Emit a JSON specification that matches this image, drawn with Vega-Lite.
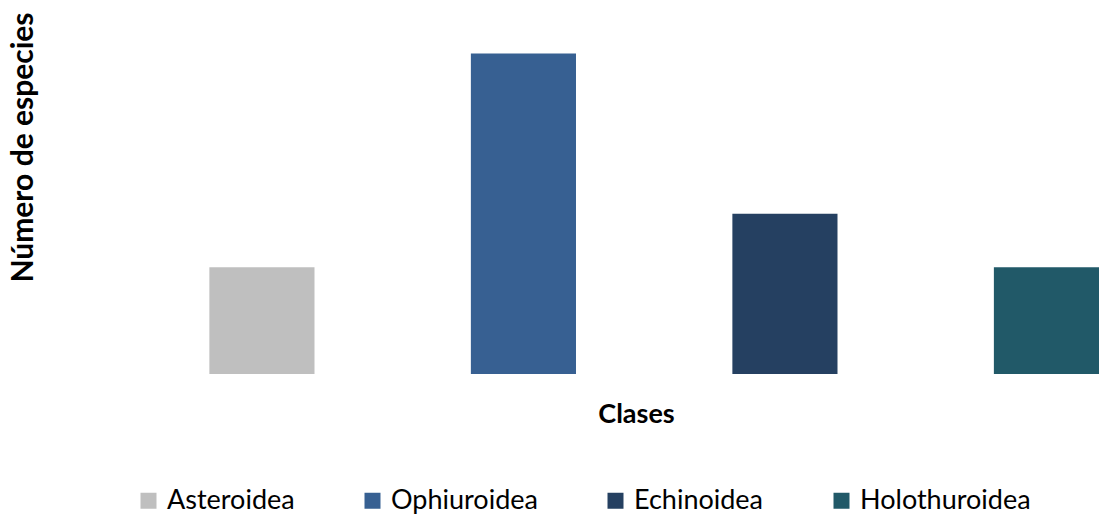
{
  "$schema": "https://vega.github.io/schema/vega-lite/v6.json",
  "autosize": "none",
  "width": 1039,
  "height": 374,
  "padding": {"left": 60, "top": 0, "right": 0, "bottom": 145},
  "background": "white",
  "config": {"view": {"stroke": null}, "font": "Lato"},
  "data": {
    "values": [
      {"clase": "Asteroidea", "especies": 2},
      {"clase": "Ophiuroidea", "especies": 6},
      {"clase": "Echinoidea", "especies": 3},
      {"clase": "Holothuroidea", "especies": 2}
    ]
  },
  "mark": {"type": "bar"},
  "encoding": {
    "x": {
      "field": "clase",
      "type": "nominal",
      "sort": null,
      "scale": {"paddingInner": 0.598, "paddingOuter": 0.2856, "align": 1},
      "axis": {
        "title": "Clases",
        "domain": false,
        "labels": false,
        "ticks": false,
        "grid": false,
        "titleFont": "Lato",
        "titleFontSize": 27,
        "titleFontWeight": "bold",
        "titleColor": "#000000",
        "titleX": 576,
        "titleY": 48,
        "titleAlign": "center",
        "titleBaseline": "alphabetic"
      }
    },
    "y": {
      "field": "especies",
      "type": "quantitative",
      "scale": {"domain": [0, 7]},
      "axis": {
        "title": "Número  de especies",
        "domain": false,
        "labels": false,
        "ticks": false,
        "grid": false,
        "titleFont": "Lato",
        "titleFontSize": 30,
        "titleFontWeight": "bold",
        "titleColor": "#000000",
        "titleAngle": -90,
        "titleX": -37,
        "titleY": 147,
        "titleAlign": "center",
        "titleBaseline": "middle"
      }
    },
    "color": {
      "field": "clase",
      "type": "nominal",
      "sort": null,
      "scale": {
        "domain": ["Asteroidea", "Ophiuroidea", "Echinoidea", "Holothuroidea"],
        "range": ["#BFBFBF", "#376092", "#254061", "#215968"]
      },
      "legend": {
        "title": null,
        "orient": "none",
        "direction": "horizontal",
        "legendX": 75,
        "legendY": 487,
        "symbolType": "square",
        "symbolSize": 256,
        "symbolStrokeWidth": 0,
        "symbolOpacity": 1,
        "labelFont": "Lato",
        "labelFontSize": 27,
        "labelColor": "#000000",
        "labelOffset": 5,
        "columnPadding": 64,
        "labelLimit": 400
      }
    }
  }
}
